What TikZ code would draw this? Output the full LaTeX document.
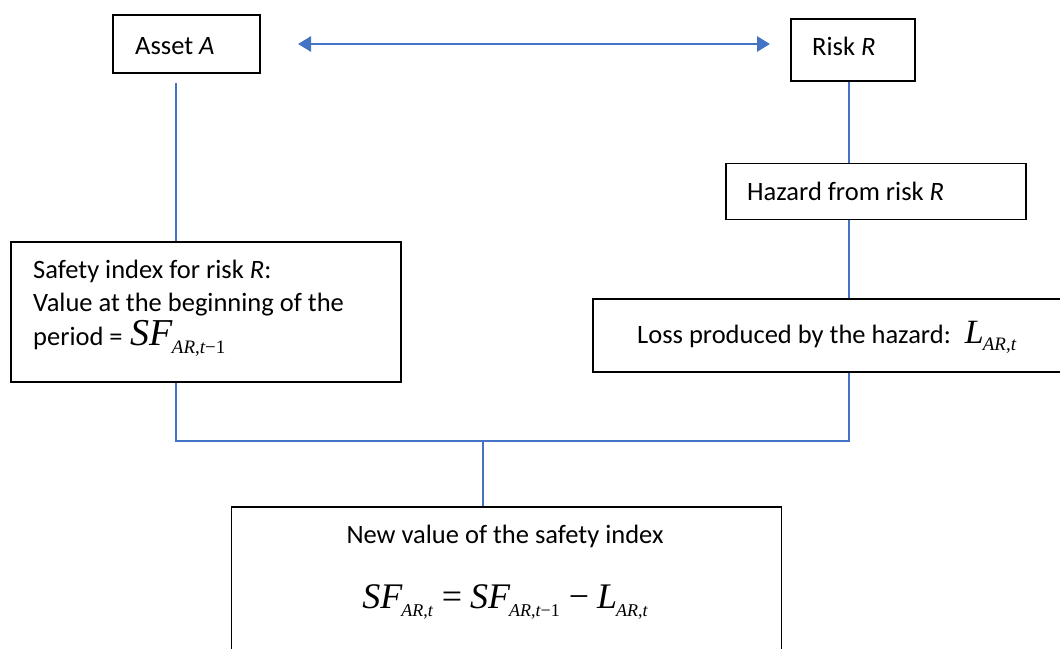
\documentclass[tikz,border=0pt]{standalone}
\usepackage{fontspec}
\setmainfont{Carlito}
\newfontfamily\tms{Liberation Serif}
\usetikzlibrary{arrows.meta}
\definecolor{lnblue}{RGB}{68,114,196}
% size, subsize, drop, main, sub
\newcommand{\mv}[5]{{\tms\fontsize{#1}{#1}\selectfont\itshape #4}\kern-1pt\raisebox{-#3}{\tms\fontsize{#2}{#2}\selectfont #5}}
\newcommand{\ARt}{\itshape AR\upshape,\itshape t}
\newcommand{\ARtm}{\itshape AR\upshape,\itshape t\upshape −1}
\newcommand{\eqop}[1]{\hspace{9pt}{\tms\fontsize{36}{36}\selectfont #1}\hspace{8pt}}
\begin{document}
\begin{tikzpicture}[x=1pt,y=-1pt,
  box/.style={draw=black, line width=1.3pt, inner sep=0pt},
  txt/.style={anchor=base west, inner sep=0pt, font=\fontsize{26.5}{30}\selectfont},
  ctxt/.style={anchor=base, inner sep=0pt, font=\fontsize{26.5}{30}\selectfont},
  conn/.style={draw=lnblue, line width=1.4pt},
  biarrow/.style={lnblue, line width=2.8pt, {Triangle[length=13pt,width=15pt]}-{Triangle[length=13pt,width=15pt]}}]
\useasboundingbox (0,0) rectangle (1060,648);
\clip (0,0) rectangle (1060,648);
% boxes
\node[box, minimum width=147pt, minimum height=58pt] (asset) at (186.5,44) {};
\node[box, minimum width=124pt, minimum height=62pt] (risk) at (853,50) {};
\node[box, minimum width=300pt, minimum height=56pt] (hazard) at (876,191.5) {};
\node[box, minimum width=390pt, minimum height=140pt] (safety) at (206,312) {};
\node[box, minimum width=482pt, minimum height=73pt] (loss) at (834,335.5) {};
\node[box, minimum width=550pt, minimum height=163pt] (newv) at (506.5,588.5) {};
% texts
\node[txt] (assettxt) at (135,54) {Asset \textit{A}};
\node[txt] (risktxt) at (812,55) {Risk \textit{R}};
\node[txt] (hazardtxt) at (747,200) {Hazard from risk \textit{R}};
\node[txt] (saf1) at (33,278) {Safety index for risk \textit{R}:};
\node[txt] (saf2) at (33,311) {Value at the beginning of the};
\node[txt] (saf3) at (33,345) {period =\hspace{8pt}\mv{38}{19}{8pt}{SF}{\ARtm}};
\node[txt] (losstxt) at (637,343) {Loss produced by the hazard:\hspace{14pt}\mv{34}{19}{7pt}{L}{\ARt}};
\node[ctxt] (newtxt) at (505,543) {New value of the safety index};
\node[ctxt] (eqtxt) at (505,608) {\mv{36}{18}{8pt}{SF}{\ARt}\eqop{=}\mv{36}{18}{8pt}{SF}{\ARtm}\eqop{−}\mv{36}{18}{8pt}{L}{\ARt}};
% arrow
\coordinate (arrL) at (298,44);
\coordinate (arrR) at (770,44);
\draw[biarrow] (arrL) -- (arrR);
% connectors
\coordinate (lx) at (176,0);
\coordinate (rx) at (849,0);
\coordinate (mx) at (483,0);
\coordinate (jy) at (0,441);
\coordinate (assetstart) at (176,83);
\draw[conn] (assetstart) -- (safety.north -| lx);
\draw[conn] (risk.south -| rx) -- (hazard.north -| rx);
\draw[conn] (hazard.south -| rx) -- (loss.north -| rx);
\draw[conn] (safety.south -| lx) -- (jy -| lx) -- (jy -| rx) -- (loss.south -| rx);
\draw[conn] (jy -| mx) -- (newv.north -| mx);
\end{tikzpicture}
\end{document}
